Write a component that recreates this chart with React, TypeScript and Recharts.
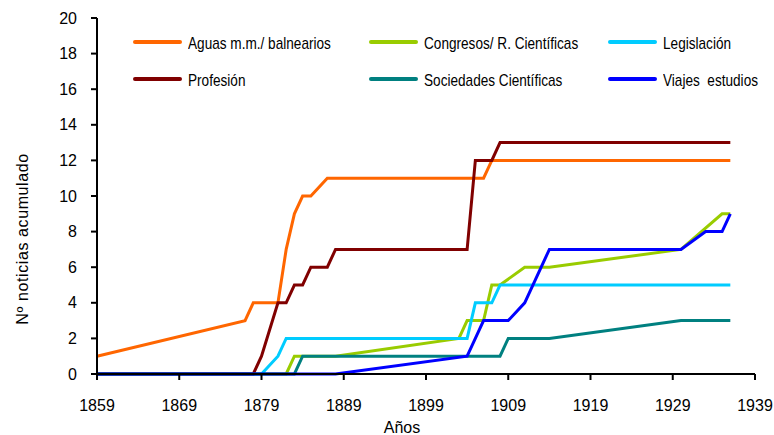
import React from 'react';
import { LineChart, Line, XAxis, YAxis, Label } from 'recharts';

// cumulative news count per topic, by year
const aguasYears = [1859, 1877, 1878, 1881, 1882, 1883, 1884, 1885, 1887, 1906, 1907, 1936];
const aguasValues = [1, 3, 4, 4, 7, 9, 10, 10, 11, 11, 12, 12];

const congresosYears = [1859, 1882, 1883, 1884, 1888, 1903, 1904, 1906, 1907, 1908, 1911, 1914, 1930, 1935, 1936];
const congresosValues = [0, 0, 1, 1, 1, 2, 3, 3, 5, 5, 6, 6, 7, 9, 9];

const legislacionYears = [1859, 1879, 1881, 1882, 1904, 1905, 1907, 1908, 1936];
const legislacionValues = [0, 0, 1, 2, 2, 4, 4, 5, 5];

const profesionYears = [1859, 1878, 1879, 1881, 1882, 1883, 1884, 1885, 1887, 1888, 1904, 1905, 1907, 1908, 1936];
const profesionValues = [0, 0, 1, 4, 4, 5, 5, 6, 6, 7, 7, 12, 12, 13, 13];

const sociedadesYears = [1859, 1883, 1884, 1908, 1909, 1914, 1930, 1936];
const sociedadesValues = [0, 0, 1, 1, 2, 2, 3, 3];

const viajesYears = [1859, 1888, 1904, 1905, 1906, 1909, 1911, 1914, 1930, 1933, 1935, 1936];
const viajesValues = [0, 0, 1, 2, 3, 3, 4, 7, 7, 8, 8, 9];

const xTicks = [1859, 1869, 1879, 1889, 1899, 1909, 1919, 1929, 1939];
const yTicks = [0, 2, 4, 6, 8, 10, 12, 14, 16, 18, 20];

const SERIES = [
  { name: 'Aguas m.m./ balnearios', color: '#FF6600', years: aguasYears, values: aguasValues },
  { name: 'Congresos/ R. Científicas', color: '#99CC00', years: congresosYears, values: congresosValues },
  { name: 'Legislación', color: '#00CCFF', years: legislacionYears, values: legislacionValues },
  { name: 'Profesión', color: '#800000', years: profesionYears, values: profesionValues },
  { name: 'Sociedades Científicas', color: '#008080', years: sociedadesYears, values: sociedadesValues },
  { name: 'Viajes  estudios', color: '#0000FF', years: viajesYears, values: viajesValues },
];

const FONT = '"Liberation Sans", Arial, sans-serif';

const legendCols = [133, 369, 608];
const legendRows = [42, 79];

// legend text is condensed horizontally, like a narrow face
const ChartLegend = () => (
  <div style={{ position: 'absolute', left: 0, top: 0, width: 774, height: 100, pointerEvents: 'none' }}>
    {SERIES.map((s, i) => {
      const left = legendCols[i % 3];
      const top = legendRows[Math.floor(i / 3)];
      return (
        <div key={s.name} style={{ position: 'absolute', left, top: top - 10, height: 20, display: 'flex', alignItems: 'center' }}>
          <div style={{ width: 49, height: 4, background: s.color, borderRadius: 2, flex: 'none' }} />
          <span
            style={{
              marginLeft: 6,
              position: 'relative',
              top: 2,
              display: 'inline-block',
              fontFamily: FONT,
              fontSize: 17,
              color: '#000',
              whiteSpace: 'pre',
              transform: 'scaleX(0.8)',
              transformOrigin: 'left center',
            }}
          >
            {s.name}
          </span>
        </div>
      );
    })}
  </div>
);

export default function App() {
  return (
    <div style={{ position: 'absolute', left: 0, top: 0, width: 774, height: 435, background: '#fff', overflow: 'hidden' }}>
      <LineChart width={774} height={435} margin={{ top: 18, right: 19, left: 0, bottom: 0 }}>
        <XAxis
          type="number"
          dataKey="x"
          domain={[1859, 1939]}
          ticks={xTicks}
          allowDuplicatedCategory={false}
          height={61}
          tickSize={6}
          tickMargin={20}
          axisLine={{ stroke: '#000', strokeWidth: 2 }}
          tickLine={{ stroke: '#000', strokeWidth: 2 }}
          tick={{ fill: '#000', fontSize: 16, fontFamily: FONT }}
        >
          <Label
            content={() => (
              <text x={402} y={433} textAnchor="middle" fill="#000" fontSize={16} fontFamily={FONT}>
                Años
              </text>
            )}
          />
        </XAxis>
        <YAxis
          type="number"
          domain={[0, 20]}
          ticks={yTicks}
          width={97}
          tickSize={6}
          tickMargin={14}
          axisLine={{ stroke: '#000', strokeWidth: 2 }}
          tickLine={{ stroke: '#000', strokeWidth: 2 }}
          tick={{ fill: '#000', fontSize: 16, fontFamily: FONT }}
        >
          <Label
            content={() => (
              <text
                x={22}
                y={239}
                transform="rotate(-90 22 239)"
                textAnchor="middle"
                dominantBaseline="central"
                fill="#000"
                fontSize={16}
                letterSpacing={0.6}
                fontFamily={FONT}
              >
                Nº noticias acumulado
              </text>
            )}
          />
        </YAxis>
        {SERIES.map((s) => (
          <Line
            key={s.name}
            data={s.years.map((x, i) => ({ x, y: s.values[i] }))}
            dataKey="y"
            name={s.name}
            type="linear"
            stroke={s.color}
            strokeWidth={3}
            dot={false}
            activeDot={false}
            isAnimationActive={false}
          />
        ))}
      </LineChart>
      <ChartLegend />
    </div>
  );
}
